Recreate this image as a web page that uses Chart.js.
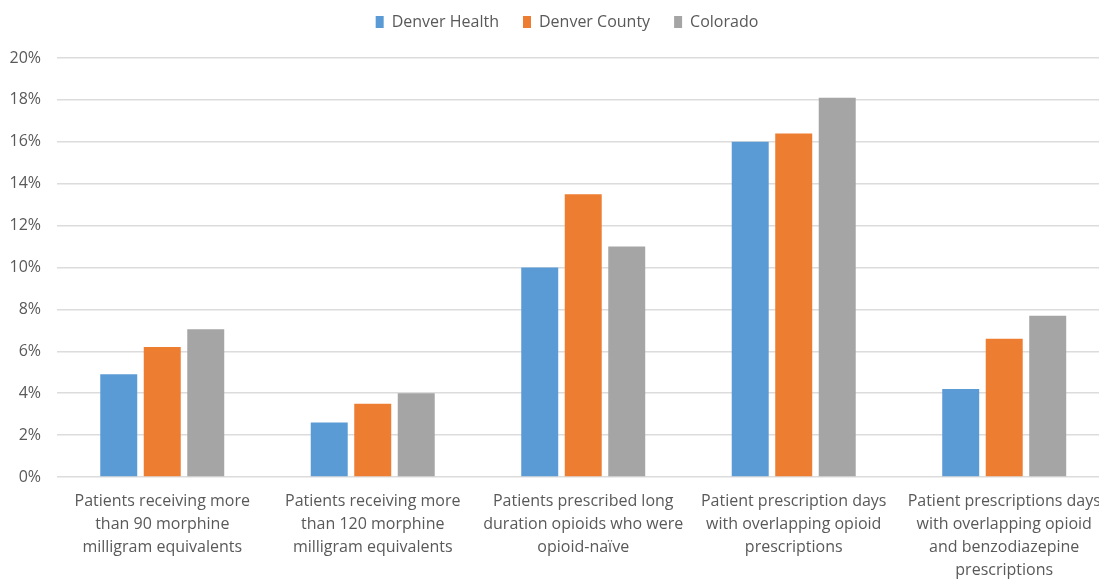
<!DOCTYPE html>
<html>
<head>
<meta charset="utf-8">
<script src="https://cdn.jsdelivr.net/npm/chart.js@4/dist/chart.umd.min.js"></script>
<style>
  html, body { margin: 0; padding: 0; background: #fff; overflow: hidden; }
  #wrap { position: relative; width: 1114px; height: 579px; }
</style>
</head>
<body>
<div id="wrap"><canvas id="chart"></canvas></div>
<script>
// Opioid prescribing measures, percent of patients / prescription days
const categories = [
  ["Patients receiving more", "than 90 morphine", "milligram equivalents"],
  ["Patients receiving more", "than 120 morphine", "milligram equivalents"],
  ["Patients prescribed long", "duration opioids who were", "opioid-naïve"],
  ["Patient prescription days", "with overlapping opioid", "prescriptions"],
  ["Patient prescriptions days", "with overlapping opioid", "and benzodiazepine", "prescriptions"]
];
const seriesNames = ["Denver Health", "Denver County", "Colorado"];
const denverHealth = [4.9, 2.6, 10.0, 16.0, 4.2];
const denverCounty = [6.2, 3.5, 13.5, 16.4, 6.6];
const colorado     = [7.05, 4.0, 11.0, 18.1, 7.7];
const yTicks = [0, 2, 4, 6, 8, 10, 12, 14, 16, 18, 20];

const colors = ["#5B9BD5", "#ED7D31", "#A5A5A5"];
const textColor = "#595959";
const gridColor = "#dcdcdc";

// fixed legend band height, legend row nudged right
const legendBandPlugin = {
  id: "legendBand",
  beforeInit(chart) {
    const origFit = chart.legend.fit;
    chart.legend.fit = function () {
      origFit.call(this);
      this.height = 68;
    };
  },
  afterLayout(chart) {
    chart.legend.left += 11;
    chart.legend.right += 11;
  }
};

new Chart(document.getElementById("chart"), {
  type: "bar",
  data: {
    labels: categories,
    datasets: [denverHealth, denverCounty, colorado].map((vals, i) => ({
      label: seriesNames[i],
      data: vals,
      backgroundColor: colors[i],
      borderWidth: 0,
      categoryPercentage: 0.62,
      barPercentage: 0.85
    }))
  },
  options: {
    responsive: true,
    maintainAspectRatio: false,
    animation: false,
    layout: { padding: { top: -10, right: 2, bottom: 0, left: 0 } },
    plugins: {
      tooltip: { enabled: false },
      legend: {
        position: "top",
        labels: {
          boxWidth: 8,
          boxHeight: 12,
          padding: 24,
          color: textColor,
          font: { family: "'Open Sans', sans-serif", size: 16 }
        }
      }
    },
    scales: {
      x: {
        grid: { display: false, drawTicks: false },
        border: { display: false },
        ticks: {
          color: textColor,
          maxRotation: 0,
          autoSkip: false,
          padding: 13,
          font: { family: "'Open Sans', sans-serif", size: 16, lineHeight: 1.44 }
        },
        afterFit(scale) { scale.height = 102; }
      },
      y: {
        min: 0,
        max: 20,
        afterBuildTicks(scale) { scale.ticks = yTicks.map(v => ({ value: v })); },
        grid: { color: gridColor, lineWidth: 1.5, drawTicks: false },
        border: { display: false },
        ticks: {
          color: textColor,
          padding: 16,
          font: { family: "'Open Sans', sans-serif", size: 16 },
          callback: v => v + "%"
        },
        afterFit(scale) { scale.width = 57; }
      }
    }
  },
  plugins: [legendBandPlugin]
});
</script>
</body>
</html>
